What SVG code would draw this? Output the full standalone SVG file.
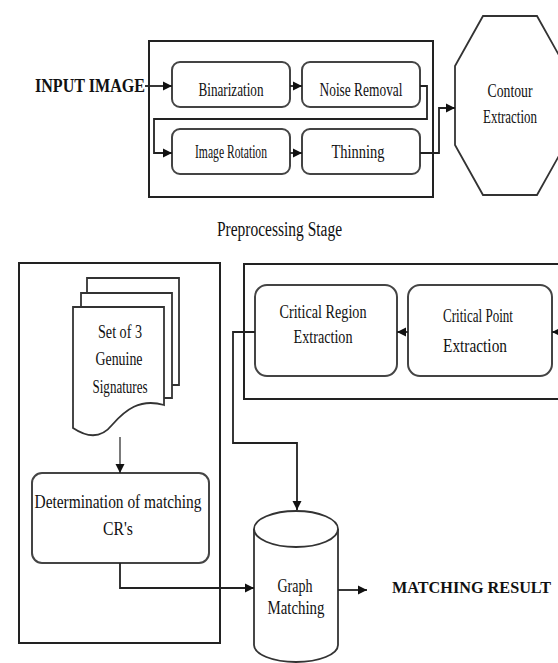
<svg xmlns="http://www.w3.org/2000/svg" width="558" height="663" viewBox="0 0 558 663">
<style>
.frame{fill:none;stroke:#222;stroke-width:2}
.rbox{fill:#fff;stroke:#444;stroke-width:2}
.shape{fill:#fff;stroke:#333;stroke-width:1.8}
.t{font-family:"Liberation Serif","Times New Roman",serif;font-size:18px;fill:#111;text-anchor:middle}
.big{font-family:"Liberation Serif","Times New Roman",serif;font-size:19px;font-weight:bold;fill:#111}
.cap{font-family:"Liberation Serif","Times New Roman",serif;font-size:20px;fill:#111}
.c{fill:none;stroke:#222;stroke-width:1.8}
</style>
<defs>
<marker id="ah" markerUnits="userSpaceOnUse" markerWidth="10" markerHeight="10" refX="9" refY="5" orient="auto">
<path d="M0,0.5 L9,5 L0,9.5 Z" fill="#111"/>
</marker>
</defs>
<rect width="558" height="663" fill="#fff"/>

<g id="frames">
<rect class="frame" x="149" y="41" width="284" height="156"/>
<rect class="frame" x="19" y="263" width="201" height="380"/>
<path class="frame" d="M562,264 H244 V399 H562"/>
</g>

<g id="input"><text class="big" x="35" y="92" textLength="110" lengthAdjust="spacingAndGlyphs">INPUT IMAGE</text></g>

<g id="binarization"><rect class="rbox" x="172" y="62" width="118" height="45" rx="8"/><text class="t" x="231" y="96" textLength="65" lengthAdjust="spacingAndGlyphs">Binarization</text></g>
<g id="noise"><rect class="rbox" x="302" y="62" width="118" height="45" rx="8"/><text class="t" x="361" y="96" textLength="83" lengthAdjust="spacingAndGlyphs">Noise Removal</text></g>
<g id="rotation"><rect class="rbox" x="172" y="129" width="118" height="45" rx="8"/><text class="t" x="231" y="158" textLength="72" lengthAdjust="spacingAndGlyphs">Image Rotation</text></g>
<g id="thinning"><rect class="rbox" x="302" y="129" width="118" height="45" rx="8"/><text class="t" x="358" y="158" textLength="53" lengthAdjust="spacingAndGlyphs">Thinning</text></g>

<g id="contour">
<polygon class="shape" points="483,16 537,16 565,66 565,145 537,195 483,195 455,145 455,66"/>
<text class="t" x="510" y="97" textLength="45" lengthAdjust="spacingAndGlyphs">Contour</text>
<text class="t" x="510" y="123" textLength="54" lengthAdjust="spacingAndGlyphs">Extraction</text>
</g>

<g id="stage"><text class="cap" x="217" y="236" textLength="125" lengthAdjust="spacingAndGlyphs">Preprocessing Stage</text></g>

<g id="critical-region"><rect class="rbox" x="255" y="285" width="142" height="91" rx="12"/>
<text class="t" x="323" y="318" textLength="87" lengthAdjust="spacingAndGlyphs">Critical Region</text>
<text class="t" x="323" y="343" textLength="59" lengthAdjust="spacingAndGlyphs">Extraction</text></g>
<g id="critical-point"><rect class="rbox" x="408" y="285" width="144" height="91" rx="12"/>
<text class="t" x="478" y="322" textLength="70" lengthAdjust="spacingAndGlyphs">Critical Point</text>
<text class="t" x="475" y="352" textLength="64" lengthAdjust="spacingAndGlyphs">Extraction</text></g>

<g id="signatures">
<path class="shape" d="M87,293 V278 H179 V385 H172"/>
<path class="shape" d="M81,307 V293 H172 V398 H164"/>
<path class="shape" d="M73,307 H164 V405 C140,398 125,410 112,425 C100,440 85,436 73,428 Z"/>
<text class="t" x="120" y="338" textLength="44" lengthAdjust="spacingAndGlyphs">Set of 3</text>
<text class="t" x="119" y="365" textLength="47" lengthAdjust="spacingAndGlyphs">Genuine</text>
<text class="t" x="120" y="393" textLength="55" lengthAdjust="spacingAndGlyphs">Signatures</text>
</g>

<g id="determination"><rect class="rbox" x="32" y="473" width="177" height="90" rx="10"/>
<text class="t" x="118" y="508" textLength="167" lengthAdjust="spacingAndGlyphs" style="font-size:19px">Determination of matching</text>
<text class="t" x="118" y="535" textLength="30" lengthAdjust="spacingAndGlyphs" style="font-size:19px">CR's</text></g>

<g id="graph-matching">
<path class="shape" d="M254,529 V645 A42,17 0 0 0 338,645 V529"/>
<ellipse class="shape" cx="296" cy="529" rx="42" ry="18"/>
<text class="t" x="295" y="592" textLength="35" lengthAdjust="spacingAndGlyphs">Graph</text>
<text class="t" x="296" y="614" textLength="57" lengthAdjust="spacingAndGlyphs">Matching</text>
</g>

<g id="result"><text class="big" x="392" y="593" textLength="159" lengthAdjust="spacingAndGlyphs" style="font-size:16.5px">MATCHING RESULT</text></g>

<g id="connectors">
<path class="c" d="M145,86 H172" marker-end="url(#ah)"/>
<path class="c" d="M290,86 H302" marker-end="url(#ah)"/>
<path class="c" d="M420,86 H427 V119 H154 V153 H172" marker-end="url(#ah)"/>
<path class="c" d="M290,153 H302" marker-end="url(#ah)"/>
<path class="c" d="M420,153 H439 V108 H455" marker-end="url(#ah)"/>
<path class="c" d="M562,332 H552" marker-end="url(#ah)"/>
<path class="c" d="M408,332 H397" marker-end="url(#ah)"/>
<path class="c" d="M255,332 H233 V443 H297 V510" marker-end="url(#ah)"/>
<path class="c" d="M120,437 V473" marker-end="url(#ah)" style="stroke-width:1.2"/>
<path class="c" d="M120,563 V588 H254" marker-end="url(#ah)"/>
<path class="c" d="M338,590 H367" marker-end="url(#ah)"/>
</g>
</svg>
